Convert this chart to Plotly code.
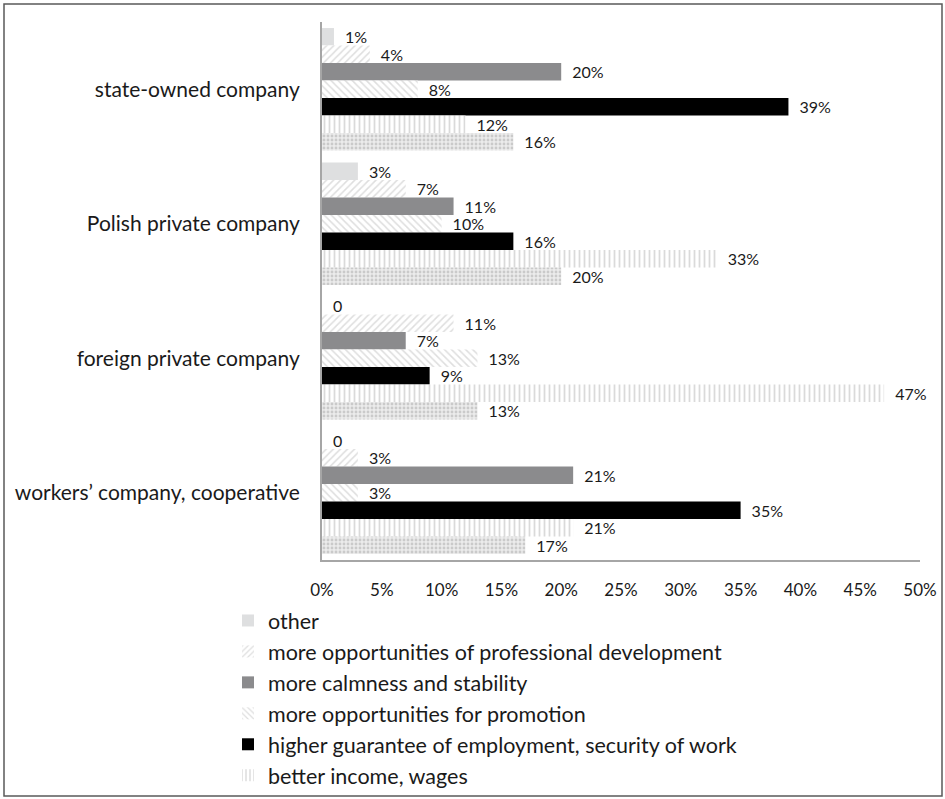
import plotly.graph_objects as go

# Company types (top to bottom)
companies = [
    "state-owned company",
    "Polish private company",
    "foreign private company",
    "workers\u2019 company, cooperative",
]

# Answer categories, in the order the bars appear inside each group
series_names = [
    "other",
    "more opportunities of professional development",
    "more calmness and stability",
    "more opportunities for promotion",
    "higher guarantee of employment, security of work",
    "better income, wages",
    "other reasons",
]

# Percent of answers per company type
other_vals = [1, 3, 0, 0]
prof_dev_vals = [4, 7, 11, 3]
calmness_vals = [20, 11, 7, 21]
promotion_vals = [8, 10, 13, 3]
guarantee_vals = [39, 16, 9, 35]
income_vals = [12, 33, 47, 21]
dotted_vals = [16, 20, 13, 17]

series_values = [
    other_vals, prof_dev_vals, calmness_vals, promotion_vals,
    guarantee_vals, income_vals, dotted_vals,
]

x_ticks = [0, 5, 10, 15, 20, 25, 30, 35, 40, 45, 50]

# Fill styles for each series
styles = [
    dict(color="#dedfe0"),
    dict(color="white", pattern=dict(shape="/", fgcolor="#bdbdbd", bgcolor="white", size=5, solidity=0.3)),
    dict(color="#8b8b8d"),
    dict(color="white", pattern=dict(shape="\\", fgcolor="#bdbdbd", bgcolor="white", size=5, solidity=0.3)),
    dict(color="#000000"),
    dict(color="white", pattern=dict(shape="|", fgcolor="#b5b5b5", bgcolor="white", size=5, solidity=0.35)),
    dict(color="white", pattern=dict(shape=".", fgcolor="#a8a8a8", bgcolor="#ececec", size=4, solidity=0.4)),
]
show_in_legend = [True, True, True, True, True, True, False]

FONT = "Lato, 'Open Sans', sans-serif"

fig = go.Figure()
for name, vals, st, show in zip(series_names, series_values, styles, show_in_legend):
    labels = ["\u2002" + (f"{v}%" if v else "0") for v in vals]
    fig.add_trace(go.Bar(
        y=companies,
        x=vals,
        orientation="h",
        name=name,
        marker=dict(line=dict(width=0), **st),
        text=labels,
        textposition="outside",
        constraintext="none",
        textfont=dict(size=16, color="#1a1a1a", family=FONT),
        cliponaxis=False,
        showlegend=show,
    ))

W, H = 945, 799
ML, MR, MT, MB = 322, 25, 22, 239
PW, PH = W - ML - MR, H - MT - MB


def px_to_paper_x(px):
    return (px - ML) / PW


def px_to_paper_y(py):
    return (H - MB - py) / PH


fig.update_layout(
    width=W,
    height=H,
    margin=dict(l=ML, r=MR, t=MT, b=MB, autoexpand=False),
    paper_bgcolor="white",
    plot_bgcolor="white",
    barmode="group",
    bargap=0.09,
    bargroupgap=0,
    font=dict(family=FONT, color="#1a1a1a"),
    xaxis=dict(
        range=[0, 50],
        tickvals=x_ticks,
        ticktext=[f"{t}%" for t in x_ticks],
        showgrid=False,
        zeroline=False,
        showline=True,
        linecolor="#a6a6a6",
        linewidth=2,
        ticks="",
        ticklabelstandoff=14,
        tickfont=dict(size=17, family=FONT, color="#1a1a1a"),
        fixedrange=True,
    ),
    yaxis=dict(
        autorange="reversed",
        showgrid=False,
        zeroline=False,
        showline=True,
        linecolor="#a6a6a6",
        linewidth=2,
        ticks="",
        ticklabelstandoff=16,
        tickfont=dict(size=21, family=FONT, color="#1a1a1a"),
        fixedrange=True,
    ),
    legend=dict(
        x=px_to_paper_x(228),
        y=px_to_paper_y(600),
        xanchor="left",
        yanchor="top",
        font=dict(size=21.5, family=FONT, color="#1a1a1a"),
        bgcolor="rgba(0,0,0,0)",
        itemclick=False,
        itemdoubleclick=False,
    ),
    shapes=[dict(
        type="rect",
        xref="paper", yref="paper",
        x0=px_to_paper_x(4), x1=px_to_paper_x(942),
        y0=px_to_paper_y(796), y1=px_to_paper_y(4),
        line=dict(color="#5a5a5a", width=1.5),
        fillcolor="rgba(0,0,0,0)",
        layer="below",
    )],
)

fig.write_html("out.html")
